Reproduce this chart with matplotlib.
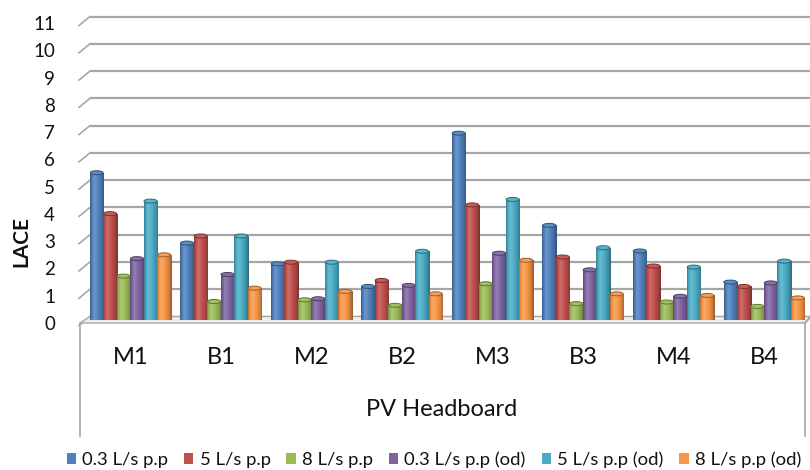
import matplotlib
matplotlib.use("Agg")
import matplotlib.pyplot as plt
import matplotlib.transforms as mtransforms
from matplotlib.patches import Ellipse, Polygon, Patch
from matplotlib.lines import Line2D
from matplotlib.colors import to_rgb
import numpy as np

# ---- data ----
categories = ["M1", "B1", "M2", "B2", "M3", "B3", "M4", "B4"]
series_names = ["0.3 L/s p.p", "5 L/s p.p", "8 L/s p.p",
                "0.3 L/s p.p (od)", "5 L/s p.p (od)", "8 L/s p.p (od)"]
flow_03 = [5.40, 2.82, 2.06, 1.23, 6.85, 3.47, 2.53, 1.39]
flow_5 = [3.90, 3.08, 2.12, 1.45, 4.22, 2.31, 1.98, 1.23]
flow_8 = [1.61, 0.68, 0.74, 0.54, 1.33, 0.60, 0.66, 0.50]
flow_03_od = [2.25, 1.67, 0.78, 1.27, 2.45, 1.84, 0.87, 1.36]
flow_5_od = [4.36, 3.08, 2.12, 2.52, 4.42, 2.65, 1.94, 2.16]
flow_8_od = [2.39, 1.17, 1.05, 0.96, 2.19, 0.96, 0.90, 0.81]
y_ticks = list(range(0, 12))
x_title = "PV Headboard"
y_title = "LACE"

series = [flow_03, flow_5, flow_8, flow_03_od, flow_5_od, flow_8_od]
colors = ["#4F81BD", "#C0504D", "#9BBB59", "#8064A2", "#4BACC6", "#F79646"]

plt.rcParams["font.family"] = ["Lato", "DejaVu Sans"]
text_col = "#111111"

W, H = 810, 470
fig = plt.figure(figsize=(W / 100, H / 100), dpi=100)
fig.patch.set_facecolor("white")


def fp(x, y):
    """pixel position (from top-left) -> figure fraction"""
    return x / W, 1 - y / H


ax = fig.add_axes([90 / W, 1 - 320 / H, 720 / W, 300 / H])
ax.set_xlim(-0.445, 7.508)
ax.set_ylim(0, 11)
ax.axis("off")

px_per_unit = 300 / 11
back_shift = 3.5   # back wall sits slightly above the bar base
depth = 9          # front-to-back offset of the 3D walls

grid_col = "#a6a6a6"

# back-wall gridlines + slanted side-wall ticks
offset = mtransforms.ScaledTranslation(0, back_shift / 100, fig.dpi_scale_trans)
for k in y_ticks:
    ax.plot([0, 1], [k, k], transform=ax.get_yaxis_transform() + offset,
            color=grid_col, lw=1.6, clip_on=False, zorder=0.5,
            solid_capstyle="butt")
    yb = 320 - back_shift - k * px_per_unit
    yf = yb + depth
    (x0, y0), (x1, y1) = fp(79, yf), fp(90, yb)
    ax.add_line(Line2D([x0, x1], [y0, y1], transform=fig.transFigure,
                       color=grid_col, lw=1.2, clip_on=False, zorder=0.5))
    tx, ty = fp(55, yf - 1)
    fig.text(tx, ty, str(k), ha="right", va="center", fontsize=13.5,
             color=text_col)

# floor slab
floor = Polygon([fp(80, 323), fp(90, 316.5), fp(810, 316.5), fp(805, 323)],
                closed=True, transform=fig.transFigure, facecolor="#efefef",
                edgecolor=grid_col, lw=1.0, clip_on=False, zorder=0.6)
ax.add_patch(floor)

# category box below the floor
for xs, ys in [([80, 80], [323, 436]), ([805, 805], [323, 436]),
               ([805, 810], [323, 318])]:
    pts = [fp(x, y) for x, y in zip(xs, ys)]
    ax.add_line(Line2D([p[0] for p in pts], [p[1] for p in pts],
                       transform=fig.transFigure, color=grid_col, lw=1.2,
                       clip_on=False, zorder=0.6))


def shade(c, f):
    c = np.array(to_rgb(c))
    if f < 1:
        return c * f
    return c + (1 - c) * (f - 1)


n = len(series)
x = np.arange(len(categories))
bw = 0.149
cap_h = 4.0 / px_per_unit

t = np.linspace(0, 1, 40)
prof = np.interp(t, [0, 0.08, 0.3, 0.6, 0.9, 1], [0.72, 0.9, 1.18, 1.0, 0.82, 0.68])

for i, (vals, col) in enumerate(zip(series, colors)):
    xs = x - (n - 1) / 2 * bw + i * bw
    bars = ax.bar(xs, vals, width=bw, color=col, edgecolor=shade(col, 0.62),
                  lw=0.7, zorder=2)
    grad = np.array([shade(col, f) for f in prof])[None, :, :]
    for b, xc, v in zip(bars, xs, vals):
        im = ax.imshow(grad, extent=[xc - bw / 2, xc + bw / 2, 0, v],
                       aspect="auto", interpolation="bilinear", zorder=2.1)
        im.set_clip_path(b)
        ax.add_patch(Ellipse((xc, v), bw * 0.97, cap_h,
                             facecolor=shade(col, 1.08),
                             edgecolor=shade(col, 0.62), lw=0.7, zorder=2.2))
        ax.add_patch(Polygon([(xc - bw / 2, 0), (xc + bw / 2, 0)],
                             closed=False, fill=False,
                             edgecolor=shade(col, 0.62), lw=0.7, zorder=2.2))

ax.set_xlim(-0.445, 7.508)
ax.set_ylim(0, 11)

# category labels
lab_tr = mtransforms.blended_transform_factory(ax.transData, fig.transFigure)
for xi, name in zip(x, categories):
    ax.text(xi, fp(0, 358)[1], name, transform=lab_tr, ha="center",
            va="center", fontsize=17, color=text_col, clip_on=False)

fig.text(*fp(442, 410), x_title, ha="center", va="center", fontsize=17,
         color=text_col)
fig.text(*fp(21, 242), y_title, ha="center", va="center", fontsize=15,
         fontweight="bold", rotation=90, color=text_col)

handles = [Patch(facecolor=c, edgecolor="none") for c in colors]
fig.legend(handles, series_names, loc="center", bbox_to_anchor=fp(434, 460),
           ncol=6, frameon=False, fontsize=13.3, handlelength=0.5,
           handleheight=0.55, handletextpad=0.35, columnspacing=0.85,
           borderaxespad=0, labelcolor=text_col)

fig.savefig("out.png", dpi=100)
